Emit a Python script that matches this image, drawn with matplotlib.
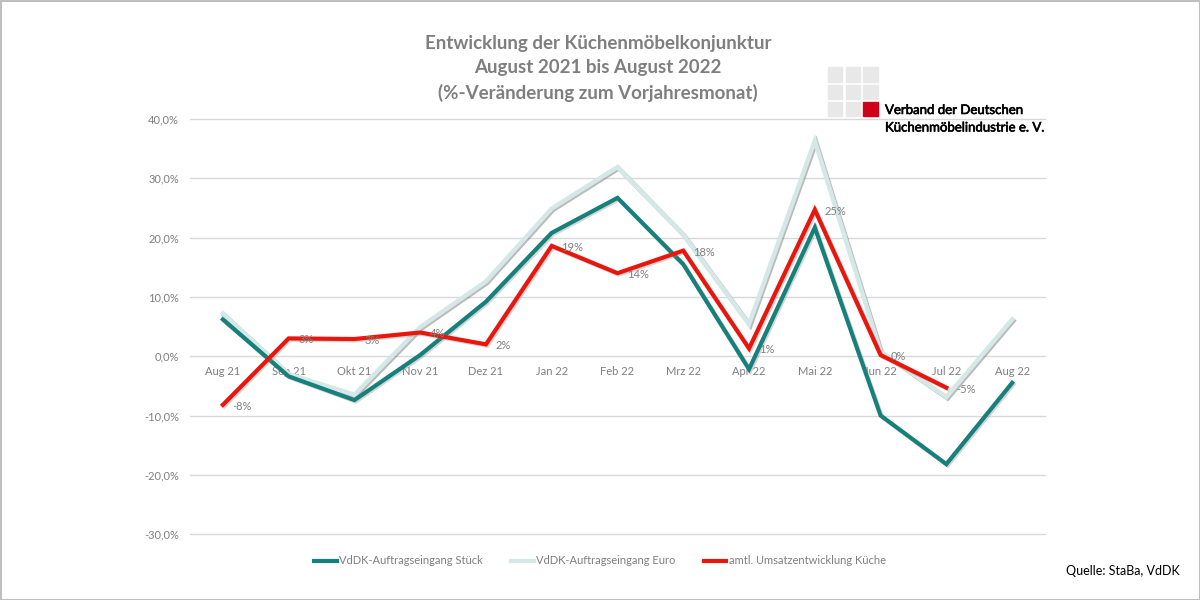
import matplotlib
matplotlib.use("Agg")
import matplotlib.pyplot as plt
import matplotlib.patheffects as pe
from matplotlib.patches import Rectangle
import numpy as np

plt.rcParams['font.family'] = ['Lato', 'DejaVu Sans']

months = ["Aug 21", "Sep 21", "Okt 21", "Nov 21", "Dez 21", "Jan 22", "Feb 22",
          "Mrz 22", "Apr 22", "Mai 22", "Jun 22", "Jul 22", "Aug 22"]
stueck = [6.2, -3.4, -7.4, 0.2, 9.2, 20.8, 26.7, 15.5, -2.2, 21.7, -10.0, -18.2, -4.5]
euro = [7.2, -3.0, -6.5, 4.9, 12.6, 24.9, 31.9, 20.5, 5.4, 36.3, 0.8, -6.9, 6.2]
umsatz = [-8.2, 3.0, 2.9, 4.0, 2.0, 18.6, 14.0, 17.8, 1.3, 24.7, 0.2, -5.3, None]
umsatz_labels = ["-8%", "3%", "3%", "4%", "2%", "19%", "14%", "18%", "1%", "25%", "0%", "-5%", ""]
yticks = [-30, -20, -10, 0, 10, 20, 30, 40]
series_names = ["VdDK-Auftragseingang Stück", "VdDK-Auftragseingang Euro",
                "amtl. Umsatzentwicklung Küche"]

c_teal = '#17807b'
c_light = '#d4e8e7'
c_red = '#e8160c'
grey_txt = '#7f7f7f'

fig = plt.figure(figsize=(12, 6), dpi=100)
ax = fig.add_axes([190/1200, 1-535/600, (1045-190)/1200, (535-119)/600])
ax.spines['bottom'].set_position(('data', 0))

x = np.arange(len(months))
shadow = [pe.SimpleLineShadow(offset=(1, -1), shadow_color='#888888', alpha=0.35), pe.Normal()]
ax.plot(x, stueck, color=c_teal, lw=3.0, solid_joinstyle='miter', label=series_names[0],
        zorder=3, path_effects=shadow)
ax.plot(x, euro, color=c_light, lw=3.2, solid_joinstyle='miter', label=series_names[1],
        zorder=2, path_effects=[pe.SimpleLineShadow(offset=(1, -1), shadow_color='#777777', alpha=0.5), pe.Normal()])
u = np.array([np.nan if v is None else v for v in umsatz], dtype=float)
ax.plot(x, u, color=c_red, lw=3.0, solid_joinstyle='miter', label=series_names[2],
        zorder=4, path_effects=shadow)

for xi, v, lab in zip(x, umsatz, umsatz_labels):
    if v is None:
        continue
    ax.annotate(lab, (xi, v), xytext=(7, -1), textcoords='offset points',
                ha='left', va='center', fontsize=8, color=grey_txt, zorder=5)

ax.set_xlim(-0.5, len(months) - 0.5)
ax.set_ylim(-30.15, 40)
ax.set_yticks(yticks)
ax.set_yticklabels([f"{v:.1f}%".replace('.', ',') for v in yticks])
ax.yaxis.grid(True, color='#d9d9d9', lw=1)
for gl in ax.get_ygridlines():
    gl.set_clip_on(False)
ax.set_axisbelow(True)
ax.set_xticks(x)
ax.set_xticklabels(months)
for s in ['top', 'right', 'left', 'bottom']:
    ax.spines[s].set_visible(False)
ax.tick_params(axis='both', length=0, labelsize=8, labelcolor=grey_txt)
ax.tick_params(axis='x', pad=7)
ax.tick_params(axis='y', pad=8)

leg = fig.legend(loc='center', bbox_to_anchor=(0.5, 1-561/600), ncol=3, frameon=False,
                 fontsize=8, handlelength=2.0, columnspacing=2.6, handletextpad=0.2)
for t in leg.get_texts():
    t.set_color(grey_txt)
for h in leg.get_lines():
    h.set_path_effects([])
    h.set_linewidth(3)

fig.text(598/1200, 1-43/600, "Entwicklung der Küchenmöbelkonjunktur", ha='center', va='center',
         fontsize=13.5, fontweight='bold', color=grey_txt)
fig.text(598/1200, 1-68/600, "August 2021 bis August 2022", ha='center', va='center',
         fontsize=13.5, fontweight='bold', color=grey_txt)
fig.text(598/1200, 1-93/600, "(%-Veränderung zum Vorjahresmonat)", ha='center', va='center',
         fontsize=13.5, fontweight='bold', color=grey_txt)

# logo
for r in range(3):
    for c in range(3):
        col = '#d0021b' if (r == 2 and c == 2) else '#e8e8e8'
        x0 = 828 + c*17.5
        y0 = 67 + r*17.5
        fig.patches.append(Rectangle((x0/1200, 1-(y0+14.5)/600), 14.5/1200, 14.5/600,
                                     transform=fig.transFigure, color=col, zorder=1))
thick = [pe.withStroke(linewidth=0.45, foreground='black')]
fig.text(885/1200, 1-110/600, "Verband der Deutschen", ha='left', va='center',
         fontsize=9.5, color='black', path_effects=thick)
fig.text(885/1200, 1-127.5/600, "Küchenmöbelindustrie e. V.", ha='left', va='center',
         fontsize=9.5, color='black', path_effects=thick)

fig.text(1180/1200, 1-571/600, "Quelle: StaBa, VdDK", ha='right', va='center',
         fontsize=9, color='black')

fig.patches.append(Rectangle((0.5/1200, 0.5/600), 1-1/1200, 1-1/600, transform=fig.transFigure,
                             fill=False, edgecolor='#bfbfbf', lw=1.5))

fig.savefig("out.png", dpi=100)
